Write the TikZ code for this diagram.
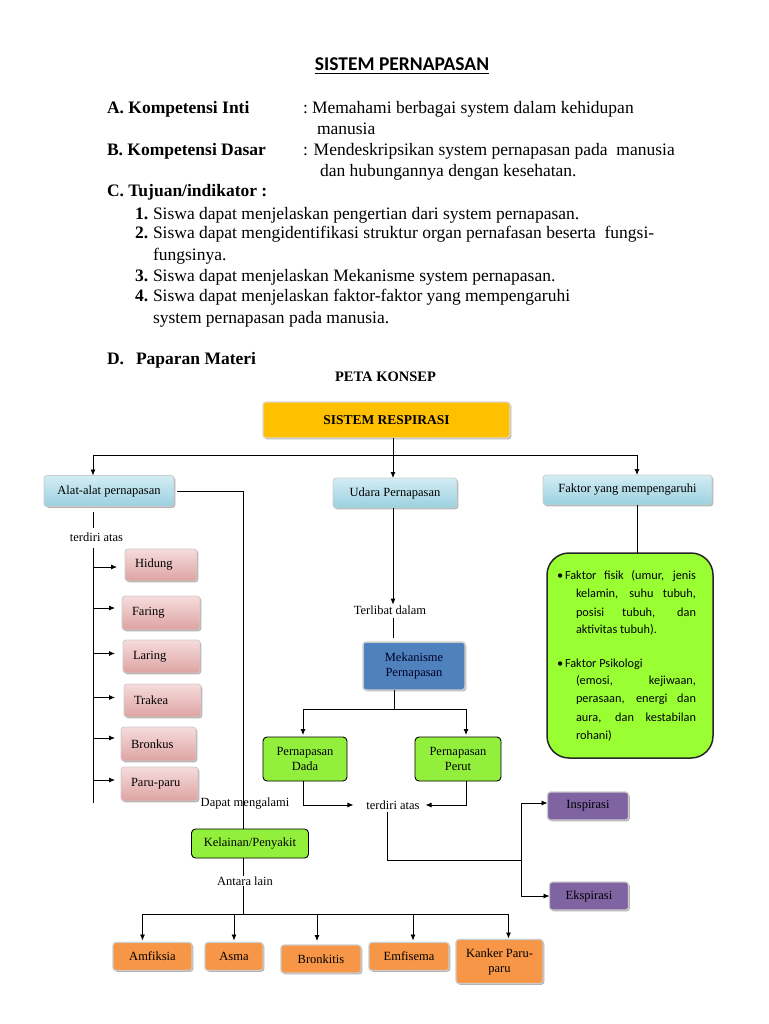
\documentclass[tikz,border=0pt]{standalone}
\usepackage{fontspec}
\setmainfont{Liberation Serif}
\newfontfamily\calfont{Carlito}
\usetikzlibrary{arrows.meta,calc,shadows}
\definecolor{gold}{HTML}{FFC000}
\definecolor{lblueA}{HTML}{D3EDF4}
\definecolor{lblueB}{HTML}{9BD0DF}
\definecolor{pinkA}{HTML}{F6DCDC}
\definecolor{pinkB}{HTML}{DDA3A2}
\definecolor{mekblue}{HTML}{4F81BD}
\definecolor{lgreen}{HTML}{92F03C}
\definecolor{bgreen}{HTML}{99FF33}
\definecolor{purp}{HTML}{8064A2}
\definecolor{orng}{HTML}{F79646}
\begin{document}
\begin{tikzpicture}[x=1pt,y=-1pt,
  every node/.style={outer sep=0pt},
  txt/.style={font=\fontsize{17.5}{21}\selectfont, anchor=base west, inner sep=0pt},
  btxt/.style={txt, font=\fontsize{17.5}{21}\selectfont\bfseries},
  dg/.style={font=\fontsize{12.5}{15}\selectfont, inner sep=2pt, align=center},
  lbl/.style={dg, inner sep=3pt},
  ln/.style={line width=0.8pt, black},
  arr/.style={ln, -{Latex[length=6pt,width=5pt]}},
  shd/.style={drop shadow={shadow xshift=1.3pt,shadow yshift=-1.3pt,opacity=0.3,fill=black}},
  box/.style={dg, rounded corners=3pt, shd},
  goldbox/.style={box, fill=gold, draw=white!85!black, line width=1.2pt, font=\fontsize{13.5}{16}\selectfont\bfseries},
  bluebox/.style={box, top color=lblueA, bottom color=lblueB, draw=white!80!black, line width=0.8pt},
  pinkbox/.style={box, top color=pinkA, bottom color=pinkB, draw=white!80!black, line width=0.8pt, text width=#1, align=left, inner xsep=10pt},
  mekbox/.style={box, fill=mekblue, draw=white!80!black, line width=1.5pt},
  grbox/.style={dg, rounded corners=4pt, fill=lgreen, draw=black, line width=0.9pt},
  purbox/.style={box, fill=purp, draw=white!80!black, line width=1.2pt},
  orbox/.style={box, fill=orng, draw=white!80!black, line width=1.2pt},
  gtxt/.style={font=\calfont\fontsize{12.3}{15}\selectfont, anchor=base west, inner sep=0pt}
]
\useasboundingbox (0,0) rectangle (768,1024);
\fill[white] (0,0) rectangle (768,1024);

% ---------- header ----------
\node[anchor=base, inner sep=0pt, font=\calfont\bfseries\fontsize{19.5}{23}\selectfont] (title) at (402,71) {SISTEM PERNAPASAN};
\draw[line width=1pt] ($(title.base west)+(0,3)$) -- ($(title.base east)+(0,3)$);

\node[btxt] (hA) at (107,114) {A. Kompetensi Inti};
\node[txt] (hAc) at (303,114) {:};
\node[txt] (hA1) at (312,114) {Memahami berbagai system dalam kehidupan};
\node[txt] (hA2) at (317,135) {manusia};
\node[btxt] (hB) at (107,156) {B. Kompetensi Dasar};
\node[txt] (hB1) at (303,156) {: Mendeskripsikan system pernapasan pada\ \ manusia};
\node[txt] (hB2) at (320,177) {dan hubungannya dengan kesehatan.};
\node[btxt] (hC) at (107,197) {C. Tujuan/indikator :};
\node[btxt] (n1) at (135,219) {1.};
\node[txt] (c1) at (153,219) {Siswa dapat menjelaskan pengertian dari system pernapasan.};
\node[btxt] (n2) at (135,239) {2.};
\node[txt] (c2) at (153,239) {Siswa dapat mengidentifikasi struktur organ pernafasan beserta\ \ fungsi-};
\node[txt] (c2b) at (153,260) {fungsinya.};
\node[btxt] (n3) at (135,281) {3.};
\node[txt] (c3) at (153,281) {Siswa dapat menjelaskan Mekanisme system pernapasan.};
\node[btxt] (n4) at (135,301) {4.};
\node[txt] (c4) at (153,301) {Siswa dapat menjelaskan faktor-faktor yang mempengaruhi};
\node[txt] (c4b) at (153,323) {system pernapasan pada manusia.};
\node[btxt] (hD) at (107,364) {D.};
\node[btxt] (hD1) at (136,364) {Paparan Materi};
\node[anchor=base, inner sep=0pt, font=\fontsize{14.5}{17}\selectfont\bfseries] (peta) at (385.5,381) {PETA KONSEP};

% ---------- concept map nodes ----------
\node[goldbox, minimum width=247pt, minimum height=36pt] (resp) at (386.5,420) {SISTEM RESPIRASI};
\node[bluebox, minimum width=130pt, minimum height=31pt] (alat) at (109,491) {Alat-alat pernapasan};
\node[bluebox, minimum width=124pt, minimum height=30pt] (udara) at (395,493) {Udara Pernapasan};
\node[bluebox, minimum width=169pt, minimum height=30pt] (faktor) at (627.5,490) {Faktor yang mempengaruhi};

\node[pinkbox=52pt, minimum height=32pt] (hidung) at (161,565) {Hidung};
\node[pinkbox=58pt, minimum height=34pt] (faring) at (161,613) {Faring};
\node[pinkbox=57pt, minimum height=33pt] (laring) at (161.5,656.5) {Laring};
\node[pinkbox=57pt, minimum height=33pt] (trakea) at (162.5,700.5) {Trakea};
\node[pinkbox=55pt, minimum height=34pt] (bronkus) at (158.5,744) {Bronkus};
\node[pinkbox=57pt, minimum height=34pt] (paru) at (159.5,784) {Paru-paru};

\node[mekbox, minimum width=102pt, minimum height=48pt, text=black!85!blue] (meka) at (414,666) {Mekanisme\\Pernapasan};
\node[grbox, minimum width=84pt, minimum height=44pt] (dada) at (305,759) {Pernapasan\\Dada};
\node[grbox, minimum width=86pt, minimum height=44pt] (perut) at (458,759) {Pernapasan\\Perut};
\node[grbox, minimum width=117pt, minimum height=29pt] (kel) at (250,843.5) {Kelainan/Penyakit};
\node[purbox, minimum width=81pt, minimum height=28pt] (ins) at (588,806) {Inspirasi};
\node[purbox, minimum width=79pt, minimum height=28pt] (eks) at (589,896) {Ekspirasi};

\node[orbox, minimum width=79pt, minimum height=28pt] (amf) at (152.5,956.5) {Amfiksia};
\node[orbox, minimum width=58pt, minimum height=28pt] (asma) at (234,956.5) {Asma};
\node[orbox, minimum width=80pt, minimum height=28pt] (bronk) at (321,959) {Bronkitis};
\node[orbox, minimum width=80pt, minimum height=28pt] (emf) at (409,956.5) {Emfisema};
\node[orbox, minimum width=87pt, minimum height=44pt] (kank) at (499.5,961.5) {Kanker Paru-\\paru};

\node[rounded corners=22pt, fill=bgreen, draw=black!85, line width=1.5pt, minimum width=166pt, minimum height=205pt] (fk) at (630,655.5) {};
\node[gtxt] (g0) at (557,579) {\textbullet};
\node[gtxt] (g1) at (565,579) {\makebox[131pt][s]{Faktor fisik (umur, jenis}};
\node[gtxt] (g2) at (576,597) {\makebox[120pt][s]{kelamin, suhu tubuh,}};
\node[gtxt] (g3) at (576,616) {\makebox[120pt][s]{posisi tubuh, dan}};
\node[gtxt] (g4) at (576,633) {aktivitas tubuh).};
\node[gtxt] (g5) at (557,667) {\textbullet};
\node[gtxt] (g6) at (565,667) {Faktor Psikologi};
\node[gtxt] (g7) at (576,684) {\makebox[120pt][s]{(emosi, kejiwaan,}};
\node[gtxt] (g8) at (576,702) {\makebox[120pt][s]{perasaan, energi dan}};
\node[gtxt] (g9) at (576,721) {\makebox[120pt][s]{aura, dan kestabilan}};
\node[gtxt] (g10) at (576,739) {rohani)};

% labels
\node[lbl] (t1) at (96.5,537) {terdiri atas};
\node[lbl] (terlibat) at (390,610) {Terlibat dalam};
\node[lbl] (dapat) at (245,804) {Dapat mengalami};
\node[lbl] (t2) at (393,805) {terdiri atas};
\node[lbl] (antara) at (245,881) {Antara lain};

% junction coordinates
\coordinate (hj) at (393,455);
\coordinate (xl) at (93,0);
\coordinate (xf) at (637,0);
\coordinate (xk) at (243,0);
\coordinate (tb) at (93,803);
\coordinate (mj) at (394,709);
\coordinate (ij) at (521,860);
\coordinate (bj) at (243,914);

% ---------- connectors ----------
\draw[ln] (resp.south -| hj) -- (hj);
\draw[arr] (hj) -| (alat.north -| xl);
\draw[arr] (hj) -- (udara.north -| hj);
\draw[arr] (hj) -| (faktor.north -| xf);

\draw[ln] ($(alat.south -| xl)+(0,5)$) -- ($(t1.north -| xl)+(0,-2)$);
\draw[ln] ($(t1.south -| xl)+(0,4)$) -- (tb);
\draw[arr] ($(hidung.west -| xl)+(0,2)$) -- ($(hidung.west)+(-8,2)$);
\draw[arr] ($(faring.west -| xl)+(0,-5)$) -- ($(faring.west)+(-7,-5)$);
\draw[arr] ($(laring.west -| xl)+(0,-3)$) -- ($(laring.west)+(-8,-3)$);
\draw[arr] ($(trakea.west -| xl)+(0,-3)$) -- ($(trakea.west)+(-9,-3)$);
\draw[arr] ($(bronkus.west -| xl)+(0,-6)$) -- ($(bronkus.west)+(-6,-6)$);
\draw[arr] ($(paru.west -| xl)+(0,-4)$) -- ($(paru.west)+(-6,-4)$);

\draw[ln] ($(alat.east)+(3,0)$) -| (kel.north -| xk);
\draw[ln] (kel.south -| xk) -- ($(antara.north -| xk)+(0,2)$);
\draw[ln] ($(antara.south -| xk)+(0,-2)$) -- (bj);
\draw[arr] (bj) -| ($(amf.north)+(-10,-2)$);
\draw[arr] (bj) -| ($(asma.north)+(0,-2)$);
\draw[arr] (bj) -| ($(bronk.north)+(-4,-4)$);
\draw[arr] (bj) -| ($(emf.north)+(4,-2)$);
\draw[arr] (bj) -| ($(kank.north)+(9,-1)$);

\draw[arr] (udara.south -| hj) -- ($(terlibat.north -| hj)+(0,2)$);
\draw[ln] ($(terlibat.south -| hj)+(0,1)$) -- ($(meka.north -| hj)+(0,-4)$);
\draw[ln] (meka.south -| mj) -- (mj);
\draw[arr] (mj) -| ($(dada.north)+(-2,-2)$);
\draw[arr] (mj) -| ($(perut.north)+(8,-2)$);
\draw[arr] ($(dada.south)+(-2,0)$) |- ($(t2.west)+(-10,0)$);
\draw[arr] ($(perut.south)+(8,0)$) |- ($(t2.east)+(3,0)$);
\draw[ln] ($(t2.south)+(-6,0)$) |- (ij);
\draw[arr] (ij) |- ($(ins.west)+(0,-3)$);
\draw[arr] (ij) |- (eks.west);

\draw[ln] (faktor.south -| xf) -- (fk.north -| xf);
\end{tikzpicture}
\end{document}
